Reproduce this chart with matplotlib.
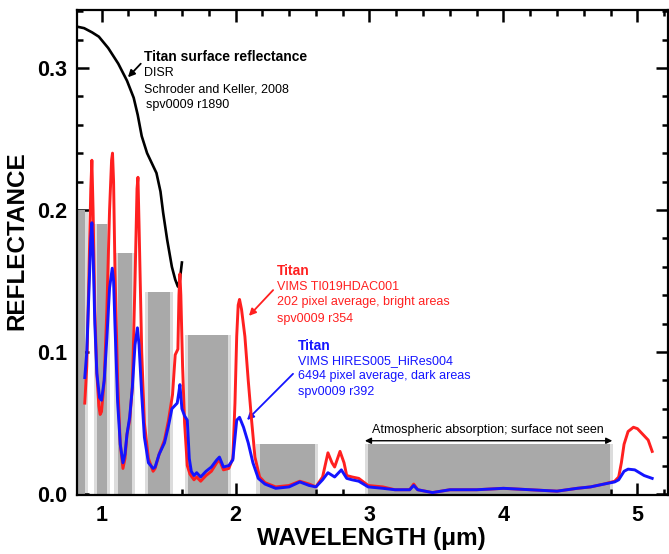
import numpy as np
import matplotlib.pyplot as plt
from matplotlib.ticker import MultipleLocator

plt.rcParams['font.family'] = ['Liberation Sans', 'DejaVu Sans']

# DISR surface reflectance (black)
disr_wl = [0.82, 0.87, 0.93, 0.98, 1.05, 1.125, 1.19, 1.24, 1.27, 1.30, 1.34,
           1.38, 1.41, 1.44, 1.46, 1.49, 1.525, 1.55, 1.57, 1.585, 1.60]
disr_r = [0.329, 0.328, 0.325, 0.322, 0.314, 0.303, 0.291, 0.279, 0.267, 0.252, 0.240,
          0.232, 0.226, 0.213, 0.198, 0.179, 0.160, 0.151, 0.146, 0.151, 0.163]

# VIMS bright areas (red)
red_wl = [0.875, 0.89, 0.905, 0.92, 0.928, 0.937, 0.95, 0.965, 0.98, 0.99, 1.00, 1.02,
          1.04, 1.06, 1.075, 1.082, 1.09, 1.10, 1.12, 1.14, 1.16, 1.175, 1.19, 1.21,
          1.23, 1.25, 1.265, 1.272, 1.28, 1.30, 1.32, 1.35, 1.385, 1.40, 1.43, 1.47,
          1.50, 1.53, 1.55, 1.57, 1.578, 1.585, 1.592, 1.605, 1.62, 1.64, 1.66, 1.69,
          1.71, 1.74, 1.78, 1.82, 1.86, 1.88, 1.91, 1.95, 1.98, 1.996, 2.009, 2.02,
          2.03, 2.045, 2.07, 2.095, 2.12, 2.145, 2.18, 2.22, 2.30, 2.40, 2.48, 2.55,
          2.60, 2.65, 2.69, 2.72, 2.74, 2.78, 2.81, 2.83, 2.87, 2.92, 2.99, 3.10,
          3.19, 3.30, 3.33, 3.36, 3.47, 3.60, 3.80, 4.00, 4.20, 4.40, 4.55, 4.65,
          4.75, 4.83, 4.86, 4.88, 4.90, 4.93, 4.97, 5.00, 5.05, 5.08, 5.11]
red_r = [0.064, 0.09, 0.15, 0.215, 0.235, 0.20, 0.13, 0.085, 0.062, 0.056, 0.058, 0.08,
         0.13, 0.20, 0.235, 0.240, 0.22, 0.16, 0.08, 0.035, 0.018, 0.025, 0.042, 0.052,
         0.075, 0.15, 0.215, 0.223, 0.19, 0.10, 0.05, 0.025, 0.016, 0.018, 0.028, 0.038,
         0.052, 0.070, 0.098, 0.102, 0.14, 0.155, 0.14, 0.09, 0.05, 0.02, 0.014, 0.010,
         0.012, 0.009, 0.013, 0.016, 0.022, 0.024, 0.017, 0.018, 0.025, 0.064, 0.111, 0.133,
         0.137, 0.130, 0.111, 0.080, 0.052, 0.026, 0.012, 0.008, 0.005, 0.006, 0.009, 0.007,
         0.005, 0.012, 0.029, 0.022, 0.019, 0.030, 0.022, 0.013, 0.012, 0.011, 0.006, 0.005,
         0.003, 0.003, 0.007, 0.003, 0.001, 0.003, 0.003, 0.004, 0.003, 0.002, 0.004, 0.005,
         0.007, 0.009, 0.012, 0.022, 0.035, 0.044, 0.047, 0.046, 0.041, 0.038, 0.030]

# VIMS dark areas (blue)
blue_wl = [0.875, 0.89, 0.905, 0.92, 0.928, 0.937, 0.95, 0.965, 0.985, 1.00, 1.02, 1.04,
           1.06, 1.08, 1.09, 1.10, 1.12, 1.14, 1.16, 1.175, 1.19, 1.21, 1.23, 1.25,
           1.268, 1.28, 1.30, 1.32, 1.35, 1.385, 1.40, 1.43, 1.47, 1.50, 1.525, 1.545,
           1.565, 1.578, 1.585, 1.60, 1.62, 1.64, 1.655, 1.67, 1.69, 1.71, 1.74, 1.78,
           1.82, 1.86, 1.88, 1.91, 1.95, 1.98, 2.009, 2.03, 2.06, 2.095, 2.13, 2.17,
           2.22, 2.30, 2.40, 2.48, 2.55, 2.60, 2.65, 2.69, 2.74, 2.79, 2.83, 2.87,
           2.92, 2.99, 3.10, 3.19, 3.30, 3.33, 3.36, 3.47, 3.60, 3.80, 4.00, 4.20,
           4.40, 4.55, 4.65, 4.75, 4.83, 4.86, 4.90, 4.93, 4.98, 5.05, 5.11]
blue_r = [0.082, 0.10, 0.14, 0.18, 0.191, 0.17, 0.12, 0.085, 0.068, 0.066, 0.08, 0.11,
          0.145, 0.159, 0.15, 0.12, 0.065, 0.035, 0.022, 0.028, 0.042, 0.054, 0.075, 0.105,
          0.117, 0.105, 0.07, 0.04, 0.022, 0.018, 0.019, 0.028, 0.036, 0.048, 0.060, 0.062,
          0.064, 0.072, 0.077, 0.060, 0.055, 0.052, 0.025, 0.016, 0.013, 0.015, 0.012, 0.016,
          0.019, 0.024, 0.026, 0.019, 0.020, 0.024, 0.052, 0.054, 0.047, 0.036, 0.022, 0.011,
          0.007, 0.004, 0.005, 0.0085, 0.006, 0.005, 0.010, 0.015, 0.012, 0.017, 0.011, 0.010,
          0.009, 0.005, 0.004, 0.003, 0.003, 0.006, 0.003, 0.001, 0.003, 0.003, 0.004, 0.003,
          0.002, 0.004, 0.005, 0.007, 0.0085, 0.010, 0.016, 0.0175, 0.017, 0.013, 0.011]

# filter bands (gray bars)
band_lo = [0.80, 0.965, 1.12, 1.345, 1.645, 2.18, 2.99]
band_hi = [0.877, 1.04, 1.225, 1.51, 1.945, 2.595, 4.795]
band_top = [0.200, 0.190, 0.170, 0.142, 0.112, 0.035, 0.035]

fig = plt.figure(figsize=(6.69, 5.54), dpi=100)
ax = fig.add_axes([0.1151, 0.1065, 0.8834, 0.8755])

wing = 0.024
for lo, hi, top in zip(band_lo, band_hi, band_top):
    ax.bar(lo - wing, top, width=hi - lo + 2 * wing, align='edge', color='#dcdcdc', zorder=1)
    ax.bar(lo, top, width=hi - lo, align='edge', color='#a9a9a9', zorder=2)

ax.plot(disr_wl, disr_r, color='black', lw=1.9, zorder=4, solid_joinstyle='round')
ax.plot(red_wl, red_r, color='#ff2020', lw=2.1, zorder=5, solid_joinstyle='round')
ax.plot(blue_wl, blue_r, color='#1414ff', lw=2.1, zorder=6, solid_joinstyle='round')

ax.set_xlim(0.817, 5.228)
ax.set_ylim(-0.0007, 0.3408)

ax.xaxis.set_major_locator(MultipleLocator(1))
ax.xaxis.set_minor_locator(MultipleLocator(0.2))
ax.yaxis.set_major_locator(MultipleLocator(0.1))
ax.yaxis.set_minor_locator(MultipleLocator(0.02))
ax.tick_params(which='both', direction='in', top=True, right=True, width=1.8)
ax.tick_params(which='major', length=8.5, labelsize=15.5, pad=7)
ax.tick_params(which='minor', length=4.5)
for lbl in ax.get_xticklabels() + ax.get_yticklabels():
    lbl.set_fontweight('bold')
ax.yaxis.set_major_formatter(plt.FormatStrFormatter('%.1f'))
for sp in ax.spines.values():
    sp.set_linewidth(1.6)

ax.set_xlabel('WAVELENGTH (\u03bcm)', fontsize=17.5, fontweight='bold')
ax.set_ylabel('REFLECTANCE', fontsize=17.5, fontweight='bold')
ax.xaxis.set_label_coords(0.498, -0.066)
ax.yaxis.set_label_coords(-0.082, 0.524)

# DISR annotation
ax.text(1.317, 0.308, 'Titan surface reflectance', fontsize=10, fontweight='bold', va='center')
ax.text(1.317, 0.2965, 'DISR', fontsize=9, va='center')
ax.text(1.317, 0.285, 'Schroder and Keller, 2008', fontsize=9, va='center')
ax.text(1.33, 0.2738, 'spv0009 r1890', fontsize=9, va='center')
ax.annotate('', xy=(1.183, 0.292), xytext=(1.307, 0.3044),
            arrowprops=dict(arrowstyle='-|>', color='black', lw=1.3, mutation_scale=10))

# bright areas annotation
red = '#ff2020'
ax.text(2.31, 0.157, 'Titan', fontsize=10, fontweight='bold', color=red, va='center')
ax.text(2.31, 0.1458, 'VIMS TI019HDAC001', fontsize=9, color=red, va='center')
ax.text(2.31, 0.135, '202 pixel average, bright areas', fontsize=9, color=red, va='center')
ax.text(2.31, 0.123, 'spv0009 r354', fontsize=9, color=red, va='center')
ax.annotate('', xy=(2.086, 0.124), xytext=(2.295, 0.145),
            arrowprops=dict(arrowstyle='-|>', color=red, lw=1.3, mutation_scale=10))

# dark areas annotation
blue = '#1414ff'
ax.text(2.466, 0.104, 'Titan', fontsize=10, fontweight='bold', color=blue, va='center')
ax.text(2.466, 0.0937, 'VIMS HIRES005_HiRes004', fontsize=9, color=blue, va='center')
ax.text(2.466, 0.083, '6494 pixel average, dark areas', fontsize=9, color=blue, va='center')
ax.text(2.466, 0.072, 'spv0009 r392', fontsize=9, color=blue, va='center')
ax.annotate('', xy=(2.071, 0.0507), xytext=(2.444, 0.086),
            arrowprops=dict(arrowstyle='-|>', color=blue, lw=1.3, mutation_scale=10))

# atmospheric absorption
ax.text(3.884, 0.045, 'Atmospheric absorption; surface not seen', fontsize=9, ha='center', va='center')
ax.annotate('', xy=(2.945, 0.0375), xytext=(4.833, 0.0375),
            arrowprops=dict(arrowstyle='<|-|>', color='black', lw=1.0, mutation_scale=9))

fig.savefig('out.png', dpi=100)
